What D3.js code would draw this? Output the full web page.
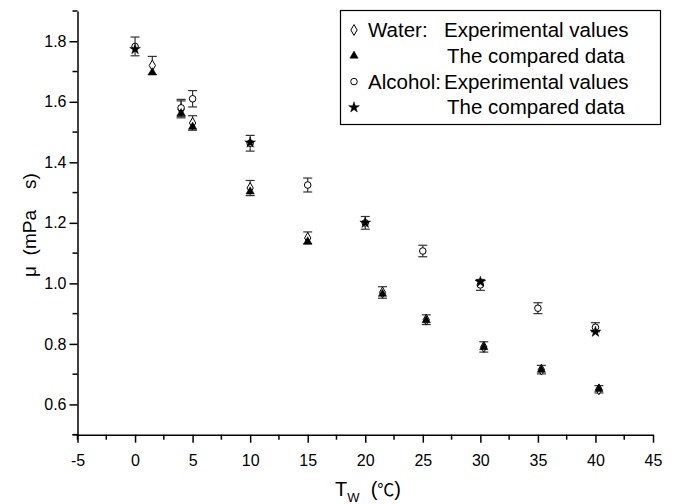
<!DOCTYPE html>
<html>
<head>
<meta charset="utf-8">
<script src="https://cdn.jsdelivr.net/npm/d3@7"></script>
<style>
  body { margin: 0; background: #fff; }
  svg { font-family: "Liberation Sans", Arial, sans-serif; }
</style>
</head>
<body>
<div id="chart"></div>
<script>
// Water: experimental values (open diamonds, with error bars)
const waterT   = [1.5, 4, 5, 10, 15, 21.5, 25.3, 30.3, 35.3, 40.3];
const waterExp = [1.72, 1.575, 1.53, 1.315, 1.15, 0.97, 0.88, 0.79, 0.715, 0.65];
const waterErr = [0.03, 0.028, 0.024, 0.025, 0.02, 0.019, 0.016, 0.017, 0.014, 0.012];
// Water: compared data (filled triangles)
const waterCmp = [1.697, 1.562, 1.517, 1.303, 1.138, 0.965, 0.878, 0.789, 0.714, 0.651];

// Alcohol: experimental values (open circles, with error bars)
const alcT   = [0, 4, 5, 10, 15, 20, 25, 30, 35, 40];
const alcExp = [1.783, 1.58, 1.61, 1.463, 1.325, 1.2, 1.107, 0.995, 0.918, 0.855];
const alcErr = [0.031, 0.028, 0.027, 0.026, 0.023, 0.021, 0.019, 0.018, 0.018, 0.015];
// Alcohol: compared data (filled stars)
const alcCmpT = [0, 10, 20, 30, 40];
const alcCmp  = [1.774, 1.465, 1.2, 1.005, 0.84];

const xTicks = [-5, 0, 5, 10, 15, 20, 25, 30, 35, 40, 45];
const yTicks = [0.6, 0.8, 1.0, 1.2, 1.4, 1.6, 1.8];

const W = 673, H = 504;
const svg = d3.select('#chart').append('svg')
  .attr('width', W).attr('height', H);

const x = d3.scaleLinear().domain([-5, 45]).range([77.5, 653]);
const y = d3.scaleLinear().domain([0.5, 1.9]).range([434.7, 11]);

// minor ticks
const xMinor = d3.range(-2.5, 45, 5);
const yMinor = d3.range(0.5, 1.95, 0.2);

const xAxis = svg.append('g')
  .attr('transform', `translate(0,${y(0.5)})`)
  .call(d3.axisBottom(x).tickValues(xTicks).tickSize(8).tickSizeOuter(0)
    .tickFormat(d => d));
const yAxis = svg.append('g')
  .attr('transform', `translate(${x(-5)},0)`)
  .call(d3.axisLeft(y).tickValues(yTicks).tickSize(8).tickSizeOuter(0)
    .tickFormat(d3.format('.1f')));

[xAxis, yAxis].forEach(g => {
  g.selectAll('path.domain').attr('stroke', '#000').attr('stroke-width', 1.5);
  g.selectAll('.tick line').attr('stroke', '#000').attr('stroke-width', 1.5);
  g.selectAll('.tick text').attr('fill', '#000')
    .style('font-size', '16px');
});
xAxis.selectAll('.tick text').attr('dy', '1.3em');
yAxis.selectAll('.tick text').attr('x', -11);

xAxis.selectAll('line.minor').data(xMinor).enter().append('line')
  .attr('x1', d => x(d)).attr('x2', d => x(d))
  .attr('y1', 0).attr('y2', 5)
  .attr('stroke', '#000').attr('stroke-width', 1.5);
yAxis.selectAll('line.minor').data(yMinor).enter().append('line')
  .attr('y1', d => y(d)).attr('y2', d => y(d))
  .attr('x1', 0).attr('x2', -5)
  .attr('stroke', '#000').attr('stroke-width', 1.5);

// small overshoot where the axes meet
svg.append('line')
  .attr('x1', x(-5) - 5).attr('x2', x(-5))
  .attr('y1', y(0.5)).attr('y2', y(0.5))
  .attr('stroke', '#000').attr('stroke-width', 1.5);
svg.append('line')
  .attr('x1', x(-5)).attr('x2', x(-5))
  .attr('y1', y(0.5)).attr('y2', y(0.5) + 5)
  .attr('stroke', '#000').attr('stroke-width', 1.5);

// axis titles
svg.append('text')
  .attr('transform', `translate(36,225) rotate(-90)`)
  .attr('text-anchor', 'middle')
  .attr('xml:space', 'preserve')
  .style('white-space', 'pre')
  .style('font-size', '19px')
  .text('\u03bc  (mPa    s)');

const xt = svg.append('text')
  .attr('x', 368).attr('y', 496)
  .attr('text-anchor', 'middle')
  .style('white-space', 'pre')
  .style('font-size', '20px');
xt.append('tspan').text('T');
xt.append('tspan').attr('dy', 6).style('font-size', '13px').text('W');
xt.append('tspan').attr('dy', -6).text('  (');
xt.append('tspan').style('font-family', '"Noto Sans CJK SC"').style('font-size', '17px').text('\u2103');
xt.append('tspan').text(')');

// error bars
function errorBars(ts, vs, es) {
  const g = svg.append('g').attr('stroke', '#333').attr('stroke-width', 1.2);
  ts.forEach((t, i) => {
    const cx = x(t), top = y(vs[i] + es[i]), bot = y(vs[i] - es[i]);
    g.append('line').attr('x1', cx).attr('x2', cx).attr('y1', top).attr('y2', bot);
    g.append('line').attr('x1', cx - 4.5).attr('x2', cx + 4.5).attr('y1', top).attr('y2', top);
    g.append('line').attr('x1', cx - 4.5).attr('x2', cx + 4.5).attr('y1', bot).attr('y2', bot);
  });
}
errorBars(waterT, waterExp, waterErr);
errorBars(alcT, alcExp, alcErr);

const sym = {
  diamond: d3.symbol().type(d3.symbolDiamond).size(34),
  circle: d3.symbol().type(d3.symbolCircle).size(34),
  triangle: d3.symbol().type(d3.symbolTriangle).size(30),
  star: d3.symbol().type(d3.symbolStar).size(36)
};

function points(ts, vs, shape, filled) {
  svg.append('g').selectAll('path').data(ts).enter().append('path')
    .attr('d', sym[shape])
    .attr('transform', (t, i) => `translate(${x(t)},${y(vs[i])})`)
    .attr('fill', filled ? '#000' : '#fff')
    .attr('stroke', '#000')
    .attr('stroke-width', filled ? 0.5 : 1);
}
points(waterT, waterExp, 'diamond', false);
points(alcT, alcExp, 'circle', false);
points(waterT, waterCmp, 'triangle', true);
points(alcCmpT, alcCmp, 'star', true);

// legend
const lg = svg.append('g').style('font-size', '20.5px');
lg.append('rect')
  .attr('x', 340.5).attr('y', 10.5).attr('width', 320).attr('height', 114)
  .attr('fill', '#fff').attr('stroke', '#000').attr('stroke-width', 1.2);
const rows = [
  { shape: 'diamond', filled: false, label: 'Water:', text: 'Experimental values' },
  { shape: 'triangle', filled: true, label: '', text: 'The compared data' },
  { shape: 'circle', filled: false, label: 'Alcohol:', text: 'Experimental values' },
  { shape: 'star', filled: true, label: '', text: 'The compared data' }
];
rows.forEach((r, i) => {
  const cy = 30 + i * 25.8;
  lg.append('path').attr('d', sym[r.shape])
    .attr('transform', `translate(354,${cy})`)
    .attr('fill', r.filled ? '#000' : '#fff')
    .attr('stroke', '#000').attr('stroke-width', r.filled ? 0.5 : 1);
  if (r.label) {
    lg.append('text').attr('x', 368).attr('y', cy + 7).text(r.label);
  }
  lg.append('text').attr('x', i % 2 === 0 ? 444 : 447).attr('y', cy + 7).text(r.text);
});
</script>
</body>
</html>
